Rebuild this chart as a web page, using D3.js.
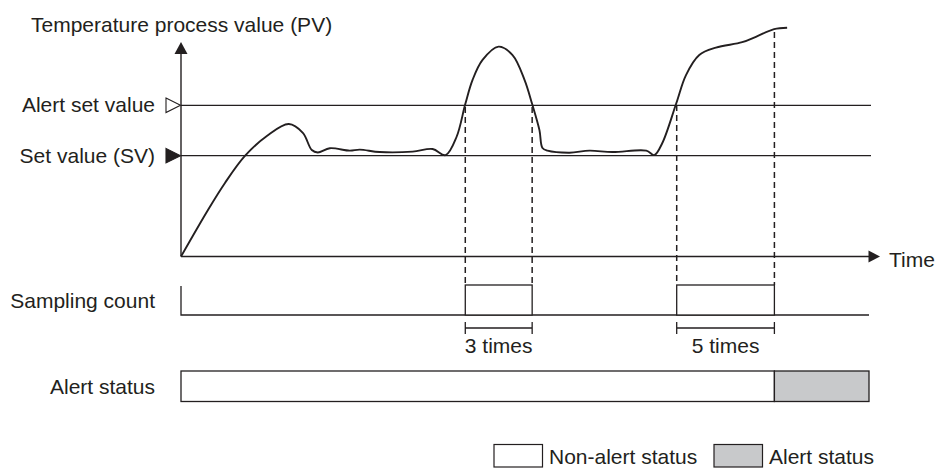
<!DOCTYPE html>
<html>
<head>
<meta charset="utf-8">
<script src="https://cdn.jsdelivr.net/npm/d3@7"></script>
<style>
  html, body { margin: 0; padding: 0; background: #fff; }
  svg { display: block; }
  text { font-family: "Liberation Sans", Arial, Helvetica, sans-serif; font-size: 21px; fill: #231f20; }
</style>
</head>
<body>
<svg id="chart" width="935" height="468"></svg>
<script>
// Process value trace: time (arbitrary units, 0-100) and temperature PV (SV = 50)
const pvTime = [0, 3.92, 6.39, 9.29, 12.48, 15.67, 17.71, 19.01, 19.88, 21.63, 24.53, 25.98, 28.88, 33.67, 36.57, 38.46, 40.06,
  41.32, 42.38, 43.83, 46.15, 48.19, 49.93, 51.04, 52.10, 52.54, 53.27, 56.46, 59.36, 62.70, 67.63, 68.79, 69.96,
  71.99, 73.40, 75.33, 77.75, 81.57, 83.56, 86.21, 88.10];
const pvValue = [0, 23.1, 36.5, 49.9, 59.8, 65.7, 61.3, 52.8, 51.6, 53.7, 52.5, 53.0, 51.8, 52.0, 53.3, 50.3, 59.4,
  75.6, 87.6, 97.5, 104.1, 99.9, 87.6, 75.6, 62.7, 53.8, 52.5, 51.5, 52.5, 51.8, 52.5, 50.3, 56.3,
  76.0, 90.0, 99.95, 103.6, 106.3, 109.0, 112.8, 113.5];

const setValue = 50;
const alertSetValue = 75;

// Periods where PV is above the alert set value, with the sampling count of each
const windowStart = [41.32, 72.05];
const windowEnd = [51.04, 86.25];
const windowCount = [3, 5];
// Alert is raised at the end of the 5-count window
const alertOnTime = 86.25;
const timeEnd = 100;

const levelLabels = ["Alert set value", "Set value (SV)"];
const rowLabels = ["Sampling count", "Alert status"];
const legendLabels = ["Non-alert status", "Alert status"];

const ink = "#231f20";
const grey = "#c8c9cb";

const svg = d3.select("#chart");
const x = d3.scaleLinear().domain([0, timeEnd]).range([181, 869]);
const y = d3.scaleLinear().domain([0, 100]).range([256.5, 54.9]);

// ---- axes ----
svg.append("line").attr("x1", x(0)).attr("x2", x(0)).attr("y1", 52).attr("y2", y(0))
  .attr("stroke", ink).attr("stroke-width", 1.4);
svg.append("path").attr("d", `M${x(0)},42 L${x(0) - 6.5},54 L${x(0) + 6.5},54 Z`).attr("fill", ink);
svg.append("line").attr("x1", x(0)).attr("x2", x(timeEnd) + 1).attr("y1", y(0)).attr("y2", y(0))
  .attr("stroke", ink).attr("stroke-width", 1.4);
svg.append("path").attr("d", `M880,${y(0)} L868.5,${y(0) - 6} L868.5,${y(0) + 6} Z`).attr("fill", ink);

svg.append("text").attr("x", 31).attr("y", 32).text("Temperature process value (PV)");
svg.append("text").attr("x", 889).attr("y", 266.5).text("Time");

// ---- reference levels ----
[alertSetValue, setValue].forEach((v, i) => {
  const yy = y(v);
  svg.append("line").attr("x1", x(0)).attr("x2", x(timeEnd) + 2).attr("y1", yy).attr("y2", yy)
    .attr("stroke", ink).attr("stroke-width", 1.3);
  svg.append("path")
    .attr("d", `M166,${yy - 7.2} L180.5,${yy} L166,${yy + 7.2} Z`)
    .attr("fill", i === 0 ? "#fff" : ink)
    .attr("stroke", ink).attr("stroke-width", 1.1).attr("stroke-linejoin", "miter");
  svg.append("text").attr("x", 155).attr("y", yy + 7).attr("text-anchor", "end").text(levelLabels[i]);
});

// ---- PV curve ----
const pts = pvTime.map((t, i) => [t, pvValue[i]]);
const line = d3.line().x(d => x(d[0])).y(d => y(d[1])).curve(d3.curveCatmullRom.alpha(0.5));
svg.append("path").attr("d", line(pts)).attr("fill", "none").attr("stroke", ink).attr("stroke-width", 1.9);

// PV at a given time along the trace
function pvAt(t) {
  const i = d3.bisectRight(pvTime, t);
  if (i <= 0) return pvValue[0];
  if (i >= pvTime.length) return pvValue[pvValue.length - 1];
  const t0 = pvTime[i - 1], t1 = pvTime[i];
  return pvValue[i - 1] + (pvValue[i] - pvValue[i - 1]) * (t - t0) / (t1 - t0);
}

// ---- sampling count row ----
const rowTop = 285, rowBase = 315;
svg.append("path").attr("d", `M${x(0)},${rowTop + 1} L${x(0)},${rowBase} L${x(timeEnd)},${rowBase}`)
  .attr("fill", "none").attr("stroke", ink).attr("stroke-width", 1.3);

windowStart.forEach((s, i) => {
  const e = windowEnd[i];
  // dashed guides from the PV trace down to the sampling row
  [s, e].forEach(t => {
    svg.append("line").attr("x1", x(t)).attr("x2", x(t))
      .attr("y1", Math.min(y(pvAt(t)), y(alertSetValue)) + 3).attr("y2", rowTop)
      .attr("stroke", ink).attr("stroke-width", 1.5).attr("stroke-dasharray", "6,4");
  });
  svg.append("rect").attr("x", x(s)).attr("y", rowTop).attr("width", x(e) - x(s)).attr("height", rowBase - rowTop)
    .attr("fill", "#fff").attr("stroke", ink).attr("stroke-width", 1.3);
  // bracket
  const by = 328;
  svg.append("path")
    .attr("d", `M${x(s)},${by - 6} L${x(s)},${by + 6} M${x(s)},${by} L${x(e)},${by} M${x(e)},${by - 6} L${x(e)},${by + 6}`)
    .attr("fill", "none").attr("stroke", ink).attr("stroke-width", 1.3);
  svg.append("text").attr("x", (x(s) + x(e)) / 2).attr("y", 352.5).attr("text-anchor", "middle")
    .text(`${windowCount[i]} times`);
});
svg.append("text").attr("x", 155).attr("y", 308).attr("text-anchor", "end").text(rowLabels[0]);

// ---- alert status row ----
const stTop = 371, stBottom = 401.5;
svg.append("rect").attr("x", x(0)).attr("y", stTop).attr("width", x(alertOnTime) - x(0)).attr("height", stBottom - stTop)
  .attr("fill", "#fff").attr("stroke", ink).attr("stroke-width", 1.3);
svg.append("rect").attr("x", x(alertOnTime)).attr("y", stTop).attr("width", x(timeEnd) - x(alertOnTime)).attr("height", stBottom - stTop)
  .attr("fill", grey).attr("stroke", ink).attr("stroke-width", 1.3);
svg.append("text").attr("x", 155).attr("y", 394).attr("text-anchor", "end").text(rowLabels[1]);

// ---- legend ----
const legendX = [494, 714];
const legendFill = ["#fff", grey];
legendLabels.forEach((lab, i) => {
  svg.append("rect").attr("x", legendX[i]).attr("y", 444.5).attr("width", 48.5).attr("height", 22.5)
    .attr("fill", legendFill[i]).attr("stroke", ink).attr("stroke-width", 1.2);
  svg.append("text").attr("x", legendX[i] + 55).attr("y", 464).text(lab);
});
</script>
</body>
</html>
